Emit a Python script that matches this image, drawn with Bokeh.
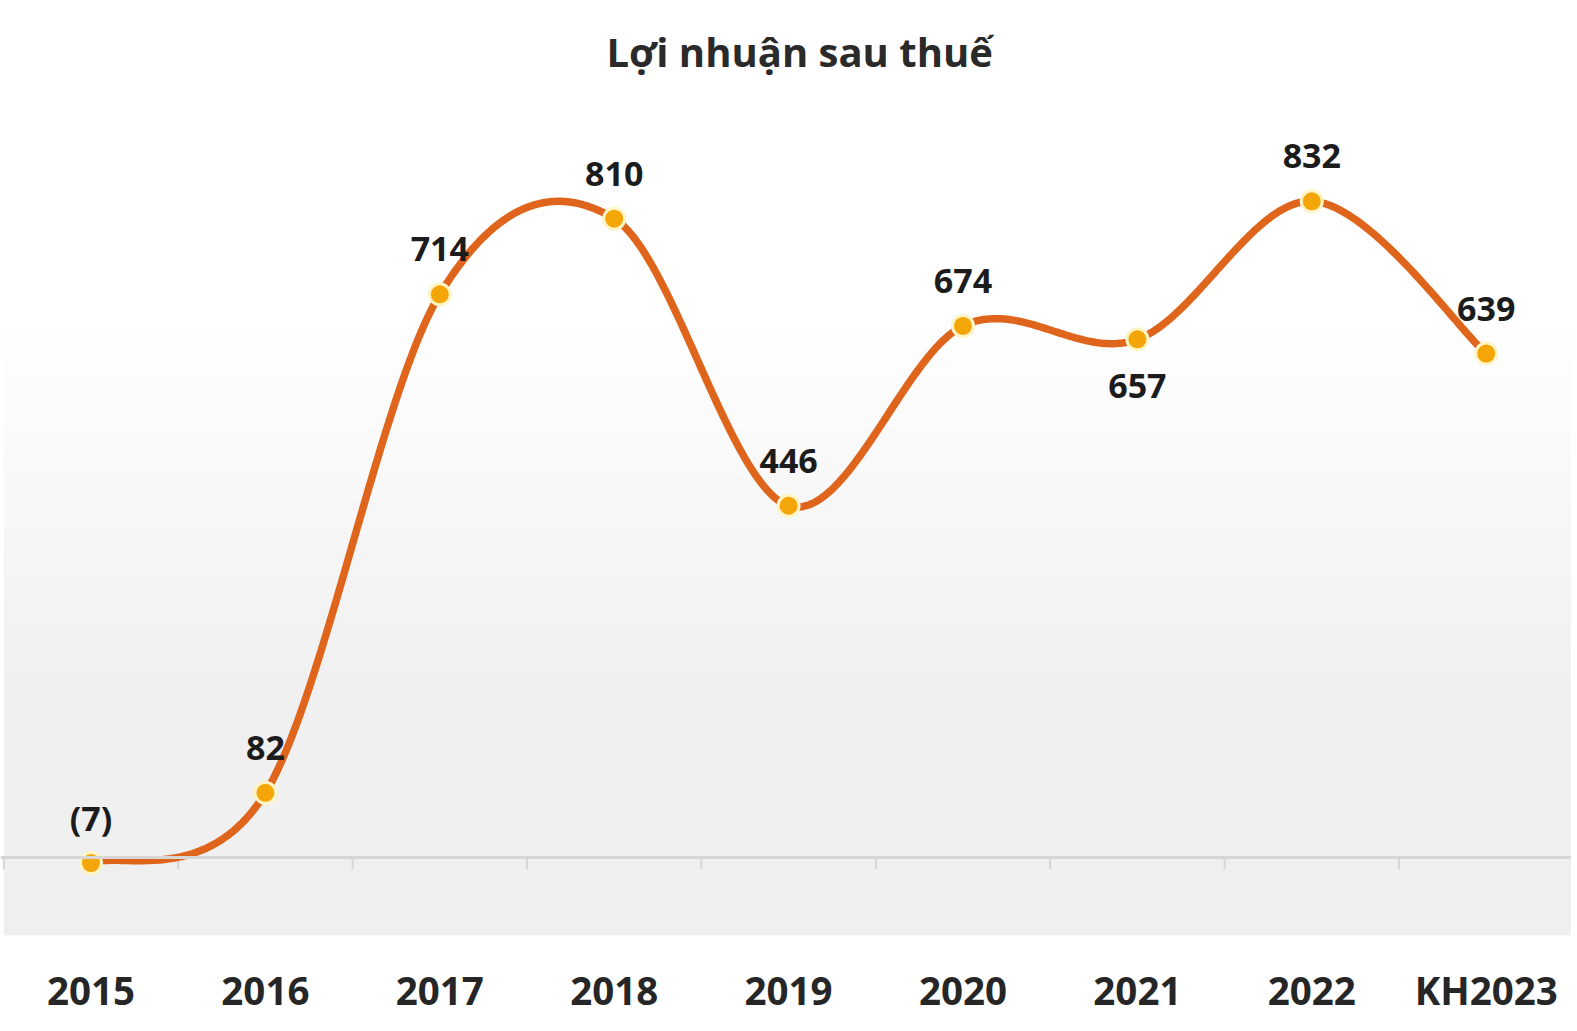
import numpy as np
from bokeh.plotting import figure
from bokeh.models import Range1d, FixedTicker, Span, Title
from bokeh.core.properties import value
from bokeh.embed import file_html
from bokeh.resources import INLINE

# ---- data ----
categories = ["2015", "2016", "2017", "2018", "2019", "2020", "2021", "2022", "KH2023"]
profit = [-7, 82, 714, 810, 446, 674, 657, 832, 639]
profit_labels = ["(7)", "82", "714", "810", "446", "674", "657", "832", "639"]
labels_below = ["2021"]

FONT = "Open Sans"
W, H = 1571, 1028
TOP, BOTTOM = 100, 935  # frame edges in page pixels

idx = np.arange(len(categories), dtype=float)
vals = np.array(profit, dtype=float)

# smoothed line (Catmull-Rom / Excel-like smoothing) through the data points
def smooth(px, py, n=60):
    P = np.stack([px, py], axis=1)
    m = np.zeros_like(P)
    m[1:-1] = (P[2:] - P[:-2]) / 2.0
    m[0] = (P[1] - P[0]) / 2.0
    m[-1] = (P[-1] - P[-2]) / 2.0
    out = []
    t = np.linspace(0, 1, n)
    h00 = 2 * t**3 - 3 * t**2 + 1
    h10 = t**3 - 2 * t**2 + t
    h01 = -2 * t**3 + 3 * t**2
    h11 = t**3 - t**2
    for i in range(len(P) - 1):
        seg = (h00[:, None] * P[i] + h10[:, None] * m[i]
               + h01[:, None] * P[i + 1] + h11[:, None] * m[i + 1])
        out.append(seg if i == 0 else seg[1:])
    out = np.concatenate(out)
    return out[:, 0], out[:, 1]

sx, sy = smooth(idx, vals)

PX = 0.7887          # pixels per unit
ZERO = 857           # page y of value 0
y_lo, y_hi = -(BOTTOM - ZERO) / PX, (ZERO - TOP) / PX
BAND = 174.4
x_lo = -0.5 + (0 - 3.3) / BAND
x_hi = -0.5 + (W - 3.3) / BAND

p = figure(width=W, height=H, output_backend="svg", toolbar_location=None,
           x_range=Range1d(x_lo, x_hi), y_range=Range1d(y_lo, y_hi),
           min_border_left=0, min_border_right=0, min_border_top=TOP,
           min_border_bottom=H - BOTTOM, title=None)
p.outline_line_color = None
p.background_fill_color = "white"
p.border_fill_color = "white"
p.xgrid.visible = False
p.ygrid.visible = False
p.yaxis.visible = False

# title
t = Title(text="Lợi nhuận sau thuế", align="left", offset=606, text_font=FONT,
          text_font_size="40px", text_font_style="bold", text_color="#2a2a2a",
          vertical_align="bottom", standoff=43)
p.add_layout(t, "above")

# gradient plot-area background
N = 500
vv = np.linspace(y_lo, y_hi, N)
scr = ZERO - PX * vv
g = np.where(scr < 330, 255.0,
             np.where(scr < 700, 255 - (scr - 330) / 370 * 15, 240.0))
g = np.where(scr > ZERO + 1, 239.0, g).astype(np.uint32)
img = np.zeros((N, 1), dtype=np.uint32)
img[:, 0] = (255 << 24) | (g << 16) | (g << 8) | g
p.image_rgba(image=[img], x=-0.5, y=y_lo, dw=9.0, dh=y_hi - y_lo)

# zero line with category boundary ticks
p.add_layout(Span(location=0, dimension="width", line_color="#d6d6d6", line_width=3))
bounds = np.arange(len(categories) + 1) - 0.5
p.segment(x0=bounds, y0=np.zeros_like(bounds), x1=bounds,
          y1=np.full_like(bounds, -15.0), line_color="#d6d6d6", line_width=2)

# line + markers
p.line(sx, sy, line_color="#E0651C", line_width=7.5, line_cap="round", line_join="round")
p.scatter(idx, vals, size=21, fill_color="#F4A608", line_color="#FFF4C4", line_width=3)

# data labels
offs = [47 if c in labels_below else -45 for c in categories]
p.text(x=idx, y=vals, text=profit_labels, y_offset=offs, text_align="center",
       text_baseline="middle", text_font=value(FONT), text_font_style="bold",
       text_font_size="34px", text_color="#1c1c1c")

# category axis labels
ax = p.xaxis[0]
ax.ticker = FixedTicker(ticks=list(range(len(categories))))
ax.major_label_overrides = {i: c for i, c in enumerate(categories)}
ax.axis_line_color = None
ax.major_tick_line_color = None
ax.minor_tick_line_color = None
ax.major_tick_out = 0
ax.major_tick_in = 0
ax.major_label_standoff = 28
ax.major_label_text_font = FONT
ax.major_label_text_font_style = "bold"
ax.major_label_text_font_size = "38.5px"
ax.major_label_text_color = "#262626"

open("out.html", "w").write(file_html(p, INLINE))
